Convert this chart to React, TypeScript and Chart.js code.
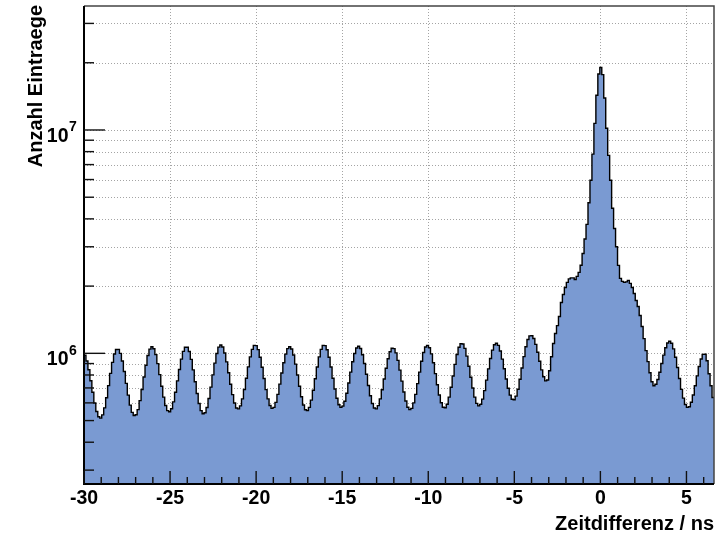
import React, { useEffect, useRef } from "react";
import { Chart, registerables } from "chart.js";

Chart.register(...registerables);

// ---- axis definition -------------------------------------------------------
const X_MIN = -30;
const X_MAX = 6.6;
const N_BINS = 320;
const Y_MIN = 2.6e5;
const Y_MAX = 3.59e7;

const xTickValues = [-30, -25, -20, -15, -10, -5, 0, 5];
const xTickLabels = ["-30", "-25", "-20", "-15", "-10", "-5", "0", "5"];
const yLabelDecades = [1e6, 1e7];
const yLabelExponents = ["6", "7"];
const yGridValues = [
  3e5, 4e5, 5e5, 6e5, 7e5, 8e5, 9e5,
  1e6, 2e6, 3e6, 4e6, 5e6, 6e6, 7e6, 8e6, 9e6,
  1e7, 2e7, 3e7,
];

const xTitle = "Zeitdifferenz / ns";
const yTitle = "Anzahl Eintraege";

// ---- histogram contents (entries in thousands), bins of (X_MAX-X_MIN)/N_BINS ----
// bins from -30 ns up to about -4 ns (periodic satellite peaks)
const countsSatellitesK = [
  981, 924, 844, 754, 669, 599, 549, 520, 513, 530, 570, 633, 717, 813, 911, 993, 1040,
  1042, 1000, 924, 829, 734, 650, 586, 544, 527, 531, 560, 614, 689, 783, 884, 978, 1044, 1070,
  1049, 987, 899, 803, 712, 637, 584, 554, 548, 565, 606, 670, 753, 847, 942, 1020, 1065,
  1064, 1019, 940, 843, 746, 661, 596, 554, 536, 542, 572, 628, 706, 801, 904, 999, 1066,
  1090, 1068, 1004, 916, 818, 727, 653, 599, 569, 564, 582, 625, 689, 774, 870, 964, 1042, 1085,
  1083, 1039, 961, 867, 772, 688, 625, 584, 567, 573, 603, 655, 728, 816, 908, 992, 1050,
  1070, 1046, 983, 895, 800, 712, 639, 587, 559, 554, 573, 617, 683, 770, 868, 964, 1042, 1086,
  1083, 1038, 961, 868, 773, 692, 629, 589, 573, 580, 610, 663, 736, 824, 917, 999, 1056,
  1075, 1051, 986, 900, 806, 718, 646, 596, 569, 564, 583, 625, 687, 768, 858, 945, 1016, 1054,
  1050, 1005, 930, 841, 751, 671, 612, 574, 560, 567, 600, 655, 732, 824, 921, 1008, 1068,
  1086, 1059, 994, 907, 811, 723, 651, 601, 574, 571, 592, 637, 705, 792, 892, 988, 1065, 1105,
  1101, 1052, 972, 876, 781, 699, 637, 597, 582, 591, 624, 681, 759, 852, 948, 1034, 1093,
  1110, 1085, 1025, 942, 853, 768, 698, 650, 623, 620, 643, 691, 765, 860, 967, 1070, 1153, 1197,
];

// bins from about -4 ns to 6.6 ns (main coincidence peak)
const countsMainPeakK = [
  1198, 1166, 1097, 1011, 921, 843, 786, 753, 760, 836,
  966, 1106, 1226, 1331, 1462, 1690, 1835, 1972, 2078, 2154,
  2176, 2176, 2142, 2210, 2303, 2480, 2800, 3250, 3780, 4720,
  5960, 7800, 10700, 14300, 17800, 19050, 17700, 13900, 10180, 7700,
  5960, 4460, 3620, 3000, 2476, 2165, 2099, 2078, 2090, 2121,
  2056, 1972, 1854, 1724, 1621, 1477, 1318, 1164, 1028, 918,
  819, 746, 716, 727, 763, 823, 900, 982, 1060, 1113,
  1132, 1109, 1047, 960, 864, 771, 690, 630, 590, 573,
  577, 604, 651, 716, 793, 873, 943, 989, 990, 927,
  810, 716, 634,
];

const FILL_COLOR = "rgb(122,154,210)";
const LABEL_FONT = 'bold 19.5px "Liberation Sans", Arial, Helvetica, sans-serif';
const SUP_FONT = 'bold 14px "Liberation Sans", Arial, Helvetica, sans-serif';
const TITLE_FONT = 'bold 20px "Liberation Sans", Arial, Helvetica, sans-serif';

const rootStylePlugin = {
  id: "rootStyle",
  beforeDatasetsDraw(chart: any) {
    const { ctx, chartArea: a } = chart;
    const x = chart.scales.x;
    const y = chart.scales.y;
    ctx.save();
    ctx.beginPath();
    ctx.rect(a.left, a.top, a.right - a.left, a.bottom - a.top);
    ctx.clip();
    ctx.strokeStyle = "#a4a4a4";
    ctx.lineWidth = 1;
    ctx.setLineDash([1, 2]);
    for (const v of xTickValues) {
      const px = Math.round(x.getPixelForValue(v)) + 0.5;
      ctx.beginPath();
      ctx.moveTo(px, a.top);
      ctx.lineTo(px, a.bottom);
      ctx.stroke();
    }
    for (const v of yGridValues) {
      const py = Math.round(y.getPixelForValue(v)) + 0.5;
      ctx.beginPath();
      ctx.moveTo(a.left, py);
      ctx.lineTo(a.right, py);
      ctx.stroke();
    }
    ctx.restore();
  },
  afterDatasetsDraw(chart: any) {
    const { ctx, chartArea: a } = chart;
    const x = chart.scales.x;
    const y = chart.scales.y;
    ctx.save();
    ctx.setLineDash([]);

    // frame
    ctx.strokeStyle = "#444";
    ctx.lineWidth = 1.5;
    ctx.beginPath();
    ctx.moveTo(a.left, a.top);
    ctx.lineTo(a.right, a.top);
    ctx.lineTo(a.right, a.bottom);
    ctx.stroke();
    ctx.strokeStyle = "#000";
    ctx.lineWidth = 2;
    ctx.beginPath();
    ctx.moveTo(a.left, a.top);
    ctx.lineTo(a.left, a.bottom);
    ctx.lineTo(a.right, a.bottom);
    ctx.stroke();

    // x ticks (inward)
    ctx.strokeStyle = "#111";
    ctx.lineWidth = 1.4;
    for (let v = Math.ceil(X_MIN); v <= X_MAX; v += 1) {
      const px = x.getPixelForValue(v);
      const len = v % 5 === 0 ? 13 : 7;
      ctx.beginPath();
      ctx.moveTo(px, a.bottom);
      ctx.lineTo(px, a.bottom - len);
      ctx.stroke();
    }
    // y ticks (inward)
    for (const v of yGridValues) {
      const py = y.getPixelForValue(v);
      const len = yLabelDecades.includes(v) ? 21 : 10;
      ctx.beginPath();
      ctx.moveTo(a.left, py);
      ctx.lineTo(a.left + len, py);
      ctx.stroke();
    }

    // x tick labels
    ctx.fillStyle = "#000";
    ctx.font = LABEL_FONT;
    ctx.textAlign = "center";
    ctx.textBaseline = "alphabetic";
    xTickValues.forEach((v, i) => {
      ctx.fillText(xTickLabels[i], x.getPixelForValue(v), a.bottom + 20);
    });

    // y tick labels: 10 with superscript exponent
    yLabelDecades.forEach((v, i) => {
      const py = y.getPixelForValue(v);
      ctx.font = LABEL_FONT;
      ctx.textAlign = "right";
      ctx.fillText("10", a.left - 15.5, py + 12);
      ctx.font = SUP_FONT;
      ctx.textAlign = "left";
      ctx.fillText(yLabelExponents[i], a.left - 15, py + 1.5);
    });

    // axis titles
    ctx.font = TITLE_FONT;
    ctx.textAlign = "right";
    ctx.fillText(xTitle, a.right, a.bottom + 46);
    ctx.save();
    ctx.translate(42, a.top - 1);
    ctx.rotate(-Math.PI / 2);
    ctx.textAlign = "right";
    ctx.fillText(yTitle, 0, 0);
    ctx.restore();

    ctx.restore();
  },
};

export default function App() {
  const canvasRef = useRef<HTMLCanvasElement | null>(null);

  useEffect(() => {
    const canvas = canvasRef.current;
    if (!canvas) return;
    const counts = [...countsSatellitesK, ...countsMainPeakK].map((c) => c * 1000);
    const binWidth = (X_MAX - X_MIN) / N_BINS;
    const points = counts.map((c, i) => ({ x: X_MIN + i * binWidth, y: c }));
    points.push({ x: X_MAX, y: counts[counts.length - 1] });

    const chart = new Chart(canvas, {
      type: "line",
      data: {
        datasets: [
          {
            data: points,
            stepped: true,
            borderColor: "#000",
            borderWidth: 1.4,
            backgroundColor: FILL_COLOR,
            fill: "start",
            pointRadius: 0,
            tension: 0,
          } as any,
        ],
      },
      options: {
        animation: false,
        responsive: false,
        devicePixelRatio: 1,
        events: [],
        layout: { padding: { left: 84, top: 6, right: 12, bottom: 49 } },
        plugins: {
          legend: { display: false },
          tooltip: { enabled: false },
          title: { display: false },
        },
        scales: {
          x: { type: "linear", min: X_MIN, max: X_MAX, display: false },
          y: { type: "logarithmic", min: Y_MIN, max: Y_MAX, display: false },
        },
      },
      plugins: [rootStylePlugin],
    });
    return () => chart.destroy();
  }, []);

  return (
    <div style={{ position: "fixed", left: 0, top: 0, width: 726, height: 533, background: "#fff" }}>
      <canvas ref={canvasRef} width={726} height={533} style={{ display: "block", width: 726, height: 533 }} />
    </div>
  );
}
